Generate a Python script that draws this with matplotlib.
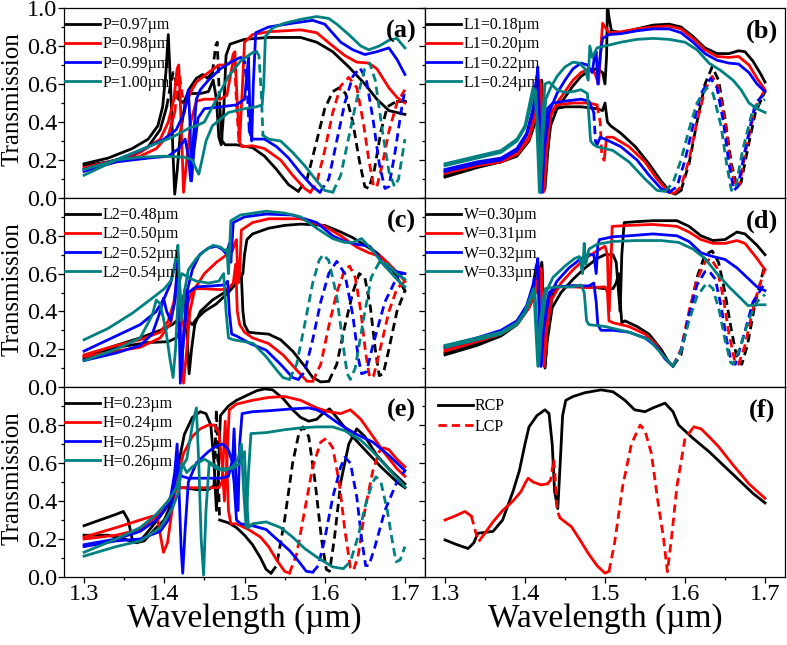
import matplotlib
matplotlib.use("Agg")
import matplotlib.pyplot as plt
from matplotlib.lines import Line2D
from matplotlib.ticker import MultipleLocator
import numpy as np

plt.rcParams["font.family"] = ["Liberation Serif", "DejaVu Serif"]
plt.rcParams["mathtext.fontset"] = "stix"

COLORS = ["#000000", "#ff0000", "#0000ff", "#008080"]
DASH = (0, (3.0, 1.8))

# ---------------- panel (a): period P ----------------
a_labels = ["P=0.97µm", "P=0.98µm", "P=0.99µm", "P=1.00µm"]
a_rcp_k = [(1.300, 0.18), (1.330, 0.21), (1.360, 0.26), (1.380, 0.31), (1.392, 0.38), (1.398, 0.48), (1.402, 0.66),
           (1.405, 0.86), (1.408, 0.58), (1.411, 0.22), (1.413, 0.02), (1.416, 0.14), (1.420, 0.34), (1.426, 0.50),
           (1.432, 0.55), (1.445, 0.55), (1.455, 0.56), (1.461, 0.62), (1.465, 0.52), (1.468, 0.32), (1.471, 0.28),
           (1.474, 0.45), (1.477, 0.75), (1.482, 0.81), (1.50, 0.835), (1.53, 0.845), (1.57, 0.845), (1.59, 0.82),
           (1.61, 0.77), (1.63, 0.69), (1.65, 0.60), (1.665, 0.52), (1.68, 0.46), (1.70, 0.44)]
a_lcp_k = [(1.300, 0.17), (1.330, 0.19), (1.360, 0.22), (1.380, 0.27), (1.395, 0.36), (1.403, 0.48), (1.408, 0.60),
           (1.411, 0.66), (1.414, 0.62), (1.418, 0.52), (1.424, 0.50), (1.432, 0.58), (1.440, 0.63), (1.448, 0.65),
           (1.454, 0.63), (1.460, 0.66), (1.464, 0.80), (1.466, 0.82), (1.469, 0.50), (1.472, 0.30), (1.476, 0.28),
           (1.49, 0.28), (1.51, 0.265), (1.525, 0.22), (1.54, 0.15), (1.555, 0.07), (1.567, 0.035), (1.578, 0.10),
           (1.59, 0.30), (1.60, 0.47), (1.61, 0.56), (1.618, 0.58), (1.626, 0.55), (1.635, 0.40), (1.643, 0.20),
           (1.650, 0.06), (1.655, 0.05), (1.662, 0.15), (1.670, 0.35), (1.678, 0.48), (1.69, 0.51), (1.70, 0.51)]
a_dash_k = [(1.405, 1.418), (1.460, 1.469), (1.567, 1.685)]
a_rcp_r = [(1.300, 0.16), (1.340, 0.20), (1.370, 0.24), (1.395, 0.31), (1.405, 0.40), (1.412, 0.52), (1.416, 0.68),
           (1.418, 0.70), (1.421, 0.40), (1.424, 0.03), (1.428, 0.20), (1.433, 0.40), (1.440, 0.51), (1.45, 0.52),
           (1.47, 0.52), (1.478, 0.54), (1.484, 0.68), (1.488, 0.77), (1.491, 0.50), (1.494, 0.30), (1.497, 0.55),
           (1.500, 0.82), (1.51, 0.86), (1.53, 0.875), (1.57, 0.885), (1.59, 0.87), (1.61, 0.80), (1.625, 0.75),
           (1.64, 0.715), (1.655, 0.71), (1.665, 0.68), (1.68, 0.58), (1.69, 0.53), (1.70, 0.50)]
a_lcp_r = [(1.300, 0.15), (1.340, 0.19), (1.370, 0.22), (1.390, 0.26), (1.405, 0.33), (1.413, 0.45), (1.417, 0.60),
           (1.419, 0.65), (1.422, 0.55), (1.426, 0.48), (1.432, 0.55), (1.440, 0.61), (1.455, 0.66), (1.468, 0.70),
           (1.478, 0.70), (1.484, 0.72), (1.487, 0.78), (1.490, 0.50), (1.493, 0.30), (1.497, 0.27), (1.51, 0.275),
           (1.525, 0.26), (1.545, 0.20), (1.56, 0.12), (1.575, 0.05), (1.582, 0.03), (1.59, 0.08), (1.60, 0.25),
           (1.61, 0.45), (1.62, 0.59), (1.63, 0.635), (1.64, 0.58), (1.648, 0.40), (1.655, 0.20), (1.661, 0.06),
           (1.665, 0.06), (1.672, 0.18), (1.68, 0.35), (1.69, 0.50), (1.70, 0.57)]
a_dash_r = [(1.415, 1.425), (1.484, 1.494), (1.582, 1.70)]
a_rcp_b = [(1.300, 0.15), (1.340, 0.20), (1.370, 0.25), (1.400, 0.31), (1.415, 0.36), (1.425, 0.45), (1.430, 0.57),
           (1.432, 0.40), (1.434, 0.09), (1.437, 0.25), (1.442, 0.42), (1.450, 0.47), (1.47, 0.48), (1.49, 0.49),
           (1.50, 0.52), (1.503, 0.65), (1.505, 0.74), (1.507, 0.40), (1.509, 0.30), (1.511, 0.60), (1.514, 0.87),
           (1.53, 0.90), (1.56, 0.92), (1.585, 0.935), (1.60, 0.915), (1.62, 0.82), (1.635, 0.78), (1.65, 0.755),
           (1.665, 0.77), (1.68, 0.79), (1.69, 0.73), (1.70, 0.65)]
a_lcp_b = [(1.300, 0.14), (1.340, 0.19), (1.380, 0.21), (1.405, 0.22), (1.418, 0.26), (1.426, 0.31), (1.430, 0.22),
           (1.433, 0.09), (1.436, 0.30), (1.440, 0.52), (1.445, 0.57), (1.455, 0.62), (1.47, 0.68), (1.485, 0.72),
           (1.495, 0.74), (1.500, 0.72), (1.503, 0.60), (1.506, 0.35), (1.510, 0.31), (1.525, 0.31), (1.54, 0.27),
           (1.555, 0.21), (1.57, 0.13), (1.585, 0.06), (1.594, 0.03), (1.605, 0.10), (1.615, 0.30), (1.625, 0.50),
           (1.635, 0.64), (1.644, 0.685), (1.652, 0.62), (1.66, 0.42), (1.668, 0.18), (1.675, 0.05), (1.680, 0.06),
           (1.688, 0.25), (1.695, 0.45), (1.70, 0.57)]
a_dash_b = [(1.497, 1.507), (1.594, 1.70)]
a_rcp_t = [(1.300, 0.15), (1.340, 0.20), (1.370, 0.215), (1.400, 0.22), (1.425, 0.215), (1.435, 0.20), (1.440, 0.15),
           (1.443, 0.125), (1.447, 0.20), (1.452, 0.30), (1.46, 0.38), (1.48, 0.45), (1.50, 0.47), (1.515, 0.48),
           (1.522, 0.49), (1.524, 0.60), (1.526, 0.85), (1.535, 0.895), (1.55, 0.92), (1.57, 0.94), (1.59, 0.955),
           (1.605, 0.945), (1.615, 0.915), (1.63, 0.86), (1.645, 0.80), (1.655, 0.78), (1.668, 0.80), (1.68, 0.83),
           (1.69, 0.84), (1.70, 0.79)]
a_lcp_t = [(1.300, 0.12), (1.340, 0.20), (1.380, 0.27), (1.410, 0.32), (1.432, 0.37), (1.440, 0.38), (1.450, 0.40),
           (1.46, 0.48), (1.47, 0.56), (1.48, 0.64), (1.495, 0.72), (1.51, 0.765), (1.515, 0.77), (1.518, 0.75),
           (1.521, 0.55), (1.523, 0.33), (1.53, 0.31), (1.545, 0.30), (1.56, 0.24), (1.575, 0.17), (1.59, 0.09),
           (1.60, 0.04), (1.61, 0.03), (1.62, 0.12), (1.63, 0.32), (1.64, 0.52), (1.65, 0.68), (1.656, 0.71),
           (1.663, 0.62), (1.672, 0.35), (1.68, 0.14), (1.687, 0.06), (1.692, 0.10), (1.70, 0.31)]
a_dash_t = [(1.515, 1.523), (1.61, 1.70)]

# ---------------- panel (b): L1 ----------------
b_labels = ["L1=0.18µm", "L1=0.20µm", "L1=0.22µm", "L1=0.24µm"]
b_rcp_k = [(1.300, 0.11), (1.340, 0.16), (1.370, 0.19), (1.390, 0.22), (1.405, 0.30), (1.413, 0.40), (1.418, 0.52),
           (1.420, 0.60), (1.422, 0.35), (1.424, 0.04), (1.427, 0.20), (1.432, 0.38), (1.44, 0.47), (1.45, 0.53),
           (1.46, 0.59), (1.47, 0.64), (1.48, 0.67), (1.49, 0.68), (1.497, 0.66), (1.500, 0.60), (1.502, 0.75),
           (1.503, 1.02), (1.505, 0.95), (1.508, 0.88), (1.52, 0.87), (1.54, 0.89), (1.56, 0.91), (1.58, 0.915),
           (1.595, 0.90), (1.61, 0.85), (1.625, 0.79), (1.64, 0.76), (1.655, 0.76), (1.667, 0.775), (1.675, 0.77),
           (1.685, 0.72), (1.695, 0.65), (1.70, 0.61)]
b_lcp_k = [(1.300, 0.12), (1.340, 0.17), (1.370, 0.19), (1.390, 0.23), (1.405, 0.31), (1.413, 0.42), (1.418, 0.55),
           (1.421, 0.62), (1.423, 0.40), (1.425, 0.05), (1.428, 0.22), (1.432, 0.44), (1.438, 0.47), (1.45, 0.48),
           (1.47, 0.48), (1.49, 0.47), (1.497, 0.46), (1.500, 0.50), (1.503, 0.40), (1.507, 0.38), (1.52, 0.34),
           (1.538, 0.27), (1.555, 0.18), (1.57, 0.09), (1.582, 0.03), (1.588, 0.02), (1.595, 0.04), (1.605, 0.18),
           (1.615, 0.40), (1.625, 0.60), (1.634, 0.69), (1.642, 0.62), (1.65, 0.42), (1.658, 0.18), (1.665, 0.06),
           (1.670, 0.08), (1.678, 0.25), (1.688, 0.45), (1.70, 0.56)]
b_dash_k = [(1.592, 1.70)]
b_rcp_r = [(1.300, 0.13), (1.340, 0.17), (1.370, 0.19), (1.390, 0.23), (1.405, 0.31), (1.412, 0.42), (1.416, 0.55),
           (1.419, 0.62), (1.421, 0.35), (1.423, 0.03), (1.426, 0.22), (1.431, 0.42), (1.44, 0.50), (1.45, 0.56),
           (1.46, 0.62), (1.47, 0.66), (1.48, 0.68), (1.487, 0.66), (1.492, 0.60), (1.495, 0.80), (1.497, 0.92),
           (1.500, 0.90), (1.505, 0.87), (1.52, 0.875), (1.54, 0.89), (1.56, 0.90), (1.58, 0.905), (1.595, 0.89),
           (1.61, 0.84), (1.625, 0.78), (1.64, 0.745), (1.655, 0.74), (1.667, 0.745), (1.68, 0.70), (1.69, 0.63),
           (1.70, 0.57)]
b_lcp_r = [(1.300, 0.14), (1.340, 0.18), (1.370, 0.20), (1.390, 0.24), (1.405, 0.32), (1.412, 0.44), (1.417, 0.58),
           (1.420, 0.60), (1.422, 0.30), (1.424, 0.04), (1.427, 0.25), (1.432, 0.45), (1.44, 0.49), (1.46, 0.50),
           (1.48, 0.50), (1.49, 0.49), (1.494, 0.40), (1.496, 0.22), (1.499, 0.20), (1.502, 0.32), (1.51, 0.32),
           (1.53, 0.27), (1.55, 0.19), (1.565, 0.10), (1.58, 0.03), (1.587, 0.025), (1.595, 0.06), (1.605, 0.20),
           (1.615, 0.40), (1.625, 0.57), (1.634, 0.64), (1.642, 0.58), (1.65, 0.40), (1.657, 0.18), (1.663, 0.05),
           (1.668, 0.07), (1.676, 0.25), (1.688, 0.48), (1.70, 0.57)]
b_dash_r = [(1.492, 1.500), (1.587, 1.70)]
b_rcp_b = [(1.300, 0.14), (1.340, 0.18), (1.370, 0.20), (1.390, 0.25), (1.402, 0.33), (1.410, 0.45), (1.414, 0.60),
           (1.416, 0.69), (1.418, 0.40), (1.421, 0.03), (1.424, 0.25), (1.43, 0.45), (1.44, 0.55), (1.45, 0.62),
           (1.46, 0.68), (1.47, 0.71), (1.478, 0.70), (1.484, 0.66), (1.487, 0.75), (1.489, 0.77), (1.491, 0.60),
           (1.494, 0.75), (1.497, 0.84), (1.505, 0.86), (1.52, 0.865), (1.54, 0.88), (1.56, 0.89), (1.58, 0.89),
           (1.595, 0.87), (1.61, 0.82), (1.625, 0.76), (1.64, 0.725), (1.655, 0.71), (1.667, 0.705), (1.68, 0.66),
           (1.69, 0.60), (1.70, 0.56)]
b_lcp_b = [(1.300, 0.15), (1.340, 0.19), (1.370, 0.21), (1.390, 0.26), (1.402, 0.34), (1.410, 0.47), (1.414, 0.62),
           (1.416, 0.66), (1.418, 0.38), (1.420, 0.03), (1.423, 0.28), (1.428, 0.47), (1.435, 0.50), (1.45, 0.51),
           (1.47, 0.52), (1.48, 0.51), (1.486, 0.45), (1.488, 0.30), (1.490, 0.28), (1.494, 0.32), (1.50, 0.31),
           (1.52, 0.27), (1.54, 0.20), (1.555, 0.12), (1.57, 0.05), (1.58, 0.03), (1.59, 0.06), (1.60, 0.20),
           (1.61, 0.38), (1.62, 0.55), (1.632, 0.63), (1.64, 0.58), (1.648, 0.40), (1.655, 0.18), (1.661, 0.04),
           (1.666, 0.06), (1.675, 0.25), (1.688, 0.50), (1.70, 0.55)]
b_dash_b = [(1.484, 1.490), (1.58, 1.70)]
b_rcp_t = [(1.300, 0.17), (1.340, 0.21), (1.370, 0.24), (1.390, 0.30), (1.400, 0.37), (1.407, 0.48), (1.411, 0.56),
           (1.413, 0.57), (1.416, 0.35), (1.419, 0.03), (1.422, 0.30), (1.426, 0.52), (1.432, 0.58), (1.44, 0.64),
           (1.45, 0.69), (1.46, 0.715), (1.468, 0.71), (1.475, 0.68), (1.479, 0.62), (1.481, 0.80), (1.484, 0.74),
           (1.49, 0.79), (1.50, 0.80), (1.52, 0.82), (1.54, 0.835), (1.56, 0.84), (1.58, 0.835), (1.60, 0.82),
           (1.615, 0.78), (1.63, 0.71), (1.645, 0.67), (1.66, 0.62), (1.67, 0.57), (1.68, 0.50), (1.69, 0.47),
           (1.70, 0.45)]
b_lcp_t = [(1.300, 0.18), (1.340, 0.22), (1.370, 0.25), (1.390, 0.31), (1.400, 0.38), (1.406, 0.50), (1.410, 0.58),
           (1.413, 0.55), (1.416, 0.25), (1.418, 0.03), (1.421, 0.35), (1.425, 0.60), (1.43, 0.61), (1.44, 0.57),
           (1.45, 0.555), (1.46, 0.56), (1.47, 0.57), (1.478, 0.55), (1.480, 0.42), (1.482, 0.30), (1.486, 0.28),
           (1.49, 0.27), (1.51, 0.25), (1.53, 0.19), (1.55, 0.10), (1.565, 0.04), (1.575, 0.035), (1.585, 0.08),
           (1.595, 0.20), (1.605, 0.36), (1.615, 0.50), (1.627, 0.58), (1.635, 0.55), (1.645, 0.38), (1.652, 0.18),
           (1.658, 0.04), (1.663, 0.05), (1.672, 0.25), (1.685, 0.47), (1.70, 0.52)]
b_dash_t = [(1.575, 1.70)]

# ---------------- panel (c): L2 ----------------
c_labels = ["L2=0.48µm", "L2=0.50µm", "L2=0.52µm", "L2=0.54µm"]
c_rcp_k = [(1.300, 0.15), (1.340, 0.21), (1.380, 0.235), (1.405, 0.24), (1.415, 0.26), (1.420, 0.30), (1.424, 0.48),
           (1.426, 0.50), (1.428, 0.30), (1.431, 0.07), (1.434, 0.20), (1.438, 0.33), (1.445, 0.40), (1.46, 0.46),
           (1.475, 0.50), (1.488, 0.54), (1.495, 0.58), (1.498, 0.60), (1.500, 0.70), (1.503, 0.78), (1.51, 0.81),
           (1.53, 0.84), (1.55, 0.855), (1.57, 0.862), (1.60, 0.855), (1.62, 0.82), (1.635, 0.79), (1.65, 0.75),
           (1.665, 0.71), (1.68, 0.65), (1.69, 0.58), (1.70, 0.51)]
c_lcp_k = [(1.300, 0.16), (1.340, 0.22), (1.370, 0.26), (1.395, 0.30), (1.410, 0.33), (1.418, 0.36), (1.423, 0.42),
           (1.426, 0.52), (1.428, 0.45), (1.430, 0.35), (1.435, 0.33), (1.44, 0.36), (1.45, 0.40), (1.465, 0.44),
           (1.48, 0.50), (1.49, 0.55), (1.496, 0.60), (1.498, 0.40), (1.500, 0.33), (1.505, 0.29), (1.515, 0.285),
           (1.53, 0.28), (1.545, 0.25), (1.56, 0.19), (1.575, 0.11), (1.585, 0.05), (1.595, 0.027), (1.605, 0.03),
           (1.615, 0.12), (1.625, 0.32), (1.635, 0.50), (1.643, 0.60), (1.65, 0.58), (1.657, 0.42), (1.663, 0.20),
           (1.668, 0.06), (1.673, 0.07), (1.68, 0.20), (1.69, 0.40), (1.70, 0.51)]
c_dash_k = [(1.605, 1.70)]
c_rcp_r = [(1.300, 0.17), (1.340, 0.22), (1.370, 0.25), (1.395, 0.29), (1.405, 0.35), (1.412, 0.45), (1.416, 0.58),
           (1.418, 0.60), (1.421, 0.30), (1.424, 0.02), (1.427, 0.15), (1.432, 0.40), (1.438, 0.52), (1.45, 0.60),
           (1.465, 0.66), (1.478, 0.70), (1.485, 0.72), (1.488, 0.76), (1.490, 0.78), (1.492, 0.55), (1.494, 0.60),
           (1.496, 0.83), (1.51, 0.87), (1.53, 0.89), (1.57, 0.89), (1.60, 0.85), (1.62, 0.80), (1.64, 0.74),
           (1.655, 0.71), (1.67, 0.69), (1.685, 0.63), (1.70, 0.56)]
c_lcp_r = [(1.300, 0.16), (1.340, 0.19), (1.370, 0.21), (1.395, 0.26), (1.408, 0.34), (1.414, 0.48), (1.417, 0.66),
           (1.419, 0.55), (1.422, 0.35), (1.426, 0.30), (1.430, 0.45), (1.436, 0.52), (1.45, 0.52), (1.47, 0.515),
           (1.48, 0.52), (1.486, 0.55), (1.489, 0.65), (1.491, 0.40), (1.494, 0.33), (1.50, 0.29), (1.51, 0.26),
           (1.53, 0.23), (1.548, 0.17), (1.565, 0.09), (1.578, 0.03), (1.585, 0.03), (1.595, 0.12), (1.605, 0.32),
           (1.615, 0.50), (1.625, 0.62), (1.631, 0.64), (1.638, 0.58), (1.645, 0.40), (1.651, 0.18), (1.656, 0.05),
           (1.661, 0.06), (1.668, 0.18), (1.68, 0.40), (1.69, 0.52), (1.70, 0.56)]
c_dash_r = [(1.414, 1.420), (1.585, 1.70)]
c_rcp_b = [(1.300, 0.19), (1.340, 0.27), (1.370, 0.33), (1.390, 0.40), (1.400, 0.47), (1.408, 0.55), (1.413, 0.64),
           (1.416, 0.70), (1.418, 0.50), (1.420, 0.02), (1.423, 0.20), (1.428, 0.50), (1.435, 0.62), (1.444, 0.70),
           (1.455, 0.735), (1.465, 0.745), (1.472, 0.73), (1.478, 0.70), (1.481, 0.76), (1.483, 0.66), (1.486, 0.87),
           (1.50, 0.90), (1.527, 0.915), (1.56, 0.91), (1.59, 0.87), (1.61, 0.80), (1.625, 0.77), (1.64, 0.755),
           (1.656, 0.745), (1.665, 0.70), (1.675, 0.64), (1.69, 0.61), (1.70, 0.60)]
c_lcp_b = [(1.300, 0.14), (1.340, 0.18), (1.370, 0.22), (1.385, 0.28), (1.395, 0.40), (1.399, 0.47), (1.403, 0.40),
           (1.408, 0.35), (1.413, 0.45), (1.416, 0.62), (1.418, 0.40), (1.421, 0.10), (1.425, 0.30), (1.430, 0.50),
           (1.44, 0.53), (1.46, 0.535), (1.475, 0.54), (1.479, 0.56), (1.481, 0.40), (1.484, 0.28), (1.49, 0.27),
           (1.507, 0.23), (1.527, 0.195), (1.545, 0.12), (1.56, 0.05), (1.567, 0.04), (1.575, 0.08), (1.585, 0.25),
           (1.595, 0.45), (1.605, 0.60), (1.615, 0.665), (1.625, 0.60), (1.635, 0.38), (1.642, 0.15), (1.646, 0.07),
           (1.652, 0.08), (1.66, 0.22), (1.675, 0.45), (1.69, 0.58), (1.70, 0.61)]
c_dash_b = [(1.567, 1.70)]
c_rcp_t = [(1.300, 0.25), (1.330, 0.31), (1.360, 0.39), (1.385, 0.47), (1.400, 0.52), (1.408, 0.56), (1.412, 0.62),
           (1.415, 0.70), (1.417, 0.75), (1.419, 0.55), (1.421, 0.35), (1.425, 0.50), (1.430, 0.62), (1.44, 0.68),
           (1.45, 0.72), (1.461, 0.75), (1.47, 0.74), (1.476, 0.72), (1.478, 0.73), (1.480, 0.60), (1.483, 0.88),
           (1.495, 0.91), (1.527, 0.93), (1.55, 0.92), (1.57, 0.90), (1.59, 0.84), (1.61, 0.785), (1.625, 0.765),
           (1.635, 0.765), (1.646, 0.785), (1.66, 0.72), (1.675, 0.64), (1.69, 0.57), (1.70, 0.53)]
c_lcp_t = [(1.300, 0.14), (1.340, 0.20), (1.370, 0.26), (1.385, 0.38), (1.390, 0.46), (1.395, 0.44), (1.402, 0.30),
           (1.407, 0.15), (1.411, 0.05), (1.414, 0.20), (1.418, 0.55), (1.422, 0.60), (1.43, 0.58), (1.44, 0.56),
           (1.455, 0.55), (1.468, 0.56), (1.474, 0.60), (1.477, 0.40), (1.480, 0.26), (1.486, 0.25), (1.50, 0.24),
           (1.511, 0.23), (1.527, 0.16), (1.54, 0.09), (1.548, 0.05), (1.556, 0.04), (1.565, 0.12), (1.575, 0.33),
           (1.585, 0.55), (1.593, 0.67), (1.598, 0.70), (1.605, 0.67), (1.615, 0.48), (1.623, 0.22), (1.628, 0.07),
           (1.632, 0.04), (1.638, 0.10), (1.648, 0.35), (1.658, 0.58), (1.668, 0.66), (1.678, 0.65), (1.69, 0.60),
           (1.70, 0.57)]
c_dash_t = [(1.556, 1.668)]

# ---------------- panel (d): W ----------------
d_labels = ["W=0.30µm", "W=0.31µm", "W=0.32µm", "W=0.33µm"]
d_rcp_k = [(1.300, 0.17), (1.340, 0.22), (1.370, 0.27), (1.390, 0.33), (1.405, 0.42), (1.413, 0.50), (1.418, 0.58),
           (1.421, 0.66), (1.423, 0.40), (1.425, 0.11), (1.428, 0.25), (1.434, 0.42), (1.445, 0.50), (1.46, 0.57),
           (1.475, 0.63), (1.49, 0.68), (1.50, 0.70), (1.51, 0.70), (1.514, 0.66), (1.517, 0.50), (1.519, 0.40),
           (1.521, 0.70), (1.524, 0.87), (1.54, 0.875), (1.56, 0.88), (1.59, 0.88), (1.605, 0.85), (1.62, 0.80),
           (1.635, 0.775), (1.65, 0.78), (1.665, 0.82), (1.675, 0.81), (1.69, 0.75), (1.70, 0.70)]
d_lcp_k = [(1.300, 0.18), (1.340, 0.23), (1.370, 0.28), (1.390, 0.34), (1.405, 0.43), (1.413, 0.52), (1.418, 0.62),
           (1.421, 0.65), (1.423, 0.35), (1.425, 0.10), (1.428, 0.30), (1.434, 0.48), (1.44, 0.53), (1.46, 0.535),
           (1.48, 0.53), (1.50, 0.52), (1.51, 0.52), (1.514, 0.55), (1.517, 0.60), (1.519, 0.45), (1.521, 0.34),
           (1.525, 0.35), (1.54, 0.32), (1.555, 0.28), (1.57, 0.20), (1.58, 0.13), (1.585, 0.11), (1.595, 0.17),
           (1.605, 0.38), (1.615, 0.58), (1.625, 0.70), (1.634, 0.72), (1.642, 0.66), (1.65, 0.50), (1.658, 0.30),
           (1.665, 0.15), (1.671, 0.12), (1.678, 0.22), (1.688, 0.45), (1.70, 0.65)]
d_dash_k = [(1.585, 1.70)]
d_rcp_r = [(1.300, 0.19), (1.340, 0.24), (1.370, 0.28), (1.390, 0.33), (1.405, 0.42), (1.413, 0.50), (1.418, 0.57),
           (1.420, 0.62), (1.422, 0.35), (1.424, 0.11), (1.427, 0.30), (1.433, 0.46), (1.445, 0.55), (1.46, 0.62),
           (1.475, 0.68), (1.49, 0.72), (1.50, 0.745), (1.503, 0.70), (1.505, 0.40), (1.507, 0.60), (1.509, 0.85),
           (1.53, 0.855), (1.56, 0.86), (1.59, 0.85), (1.605, 0.82), (1.62, 0.78), (1.635, 0.76), (1.65, 0.76),
           (1.665, 0.775), (1.675, 0.76), (1.69, 0.68), (1.70, 0.62)]
d_lcp_r = [(1.300, 0.20), (1.340, 0.25), (1.370, 0.29), (1.390, 0.35), (1.405, 0.43), (1.413, 0.52), (1.418, 0.60),
           (1.420, 0.63), (1.422, 0.35), (1.424, 0.11), (1.427, 0.35), (1.432, 0.50), (1.44, 0.53), (1.46, 0.53),
           (1.48, 0.525), (1.50, 0.53), (1.503, 0.50), (1.505, 0.35), (1.51, 0.34), (1.53, 0.32), (1.55, 0.28),
           (1.565, 0.22), (1.575, 0.15), (1.585, 0.11), (1.595, 0.20), (1.605, 0.40), (1.615, 0.57), (1.625, 0.66),
           (1.632, 0.68), (1.64, 0.63), (1.648, 0.47), (1.655, 0.28), (1.662, 0.14), (1.667, 0.12), (1.675, 0.22),
           (1.687, 0.45), (1.70, 0.63)]
d_dash_r = [(1.585, 1.70)]
d_rcp_b = [(1.300, 0.21), (1.340, 0.25), (1.370, 0.29), (1.390, 0.34), (1.402, 0.42), (1.410, 0.52), (1.414, 0.62),
           (1.416, 0.68), (1.418, 0.40), (1.420, 0.11), (1.423, 0.30), (1.43, 0.48), (1.44, 0.56), (1.455, 0.63),
           (1.47, 0.68), (1.48, 0.70), (1.486, 0.70), (1.489, 0.60), (1.491, 0.75), (1.493, 0.78), (1.51, 0.795),
           (1.53, 0.80), (1.56, 0.81), (1.59, 0.80), (1.605, 0.77), (1.62, 0.71), (1.635, 0.69), (1.65, 0.675),
           (1.665, 0.63), (1.675, 0.59), (1.69, 0.53), (1.70, 0.51)]
d_lcp_b = [(1.300, 0.215), (1.340, 0.26), (1.370, 0.30), (1.390, 0.35), (1.402, 0.43), (1.410, 0.54), (1.414, 0.64),
           (1.416, 0.66), (1.418, 0.35), (1.420, 0.11), (1.423, 0.35), (1.43, 0.50), (1.44, 0.53), (1.46, 0.535),
           (1.48, 0.535), (1.486, 0.55), (1.489, 0.45), (1.491, 0.33), (1.495, 0.30), (1.51, 0.30), (1.53, 0.29),
           (1.55, 0.26), (1.565, 0.21), (1.575, 0.15), (1.585, 0.11), (1.595, 0.19), (1.605, 0.38), (1.615, 0.54),
           (1.625, 0.61), (1.63, 0.615), (1.638, 0.57), (1.645, 0.43), (1.652, 0.25), (1.658, 0.13), (1.663, 0.12),
           (1.672, 0.25), (1.685, 0.45), (1.70, 0.55)]
d_dash_b = [(1.585, 1.70)]
d_rcp_t = [(1.300, 0.21), (1.340, 0.25), (1.370, 0.28), (1.390, 0.33), (1.400, 0.39), (1.408, 0.47), (1.412, 0.52),
           (1.414, 0.40), (1.417, 0.11), (1.420, 0.30), (1.426, 0.50), (1.435, 0.58), (1.45, 0.64), (1.462, 0.68),
           (1.468, 0.69), (1.472, 0.60), (1.474, 0.76), (1.476, 0.65), (1.48, 0.73), (1.49, 0.755), (1.51, 0.77),
           (1.54, 0.775), (1.57, 0.775), (1.592, 0.765), (1.61, 0.73), (1.625, 0.68), (1.64, 0.60), (1.655, 0.53),
           (1.667, 0.48), (1.679, 0.43), (1.69, 0.435), (1.70, 0.435)]
d_lcp_t = [(1.300, 0.22), (1.340, 0.26), (1.370, 0.29), (1.390, 0.34), (1.400, 0.40), (1.408, 0.49), (1.411, 0.52),
           (1.413, 0.35), (1.416, 0.11), (1.419, 0.35), (1.425, 0.52), (1.44, 0.53), (1.46, 0.53), (1.47, 0.54),
           (1.474, 0.50), (1.477, 0.35), (1.480, 0.33), (1.50, 0.32), (1.53, 0.29), (1.555, 0.25), (1.57, 0.18),
           (1.58, 0.13), (1.585, 0.11), (1.595, 0.19), (1.605, 0.35), (1.615, 0.48), (1.627, 0.55), (1.635, 0.52),
           (1.643, 0.40), (1.65, 0.25), (1.657, 0.13), (1.66, 0.12), (1.668, 0.20), (1.68, 0.36), (1.69, 0.45),
           (1.70, 0.49)]
d_dash_t = [(1.585, 1.70)]

# ---------------- panel (e): H ----------------
e_labels = ["H=0.23µm", "H=0.24µm", "H=0.25µm", "H=0.26µm"]
e_rcp_k = [(1.300, 0.27), (1.320, 0.30), (1.340, 0.33), (1.349, 0.345), (1.355, 0.30), (1.360, 0.20), (1.370, 0.19),
           (1.380, 0.24), (1.395, 0.32), (1.405, 0.38), (1.412, 0.45), (1.418, 0.60), (1.425, 0.75), (1.435, 0.84),
           (1.445, 0.87), (1.452, 0.86), (1.458, 0.80), (1.462, 0.60), (1.465, 0.35), (1.467, 0.50), (1.470, 0.85),
           (1.48, 0.90), (1.49, 0.93), (1.50, 0.95), (1.515, 0.98), (1.525, 0.99), (1.535, 0.985), (1.548, 0.94),
           (1.56, 0.88), (1.57, 0.84), (1.58, 0.82), (1.59, 0.83), (1.60, 0.87), (1.606, 0.885), (1.615, 0.84),
           (1.63, 0.76), (1.65, 0.67), (1.67, 0.58), (1.69, 0.50), (1.70, 0.47)]
e_lcp_k = [(1.300, 0.22), (1.330, 0.22), (1.350, 0.20), (1.365, 0.18), (1.375, 0.19), (1.390, 0.26), (1.400, 0.30),
           (1.410, 0.40), (1.415, 0.47), (1.425, 0.47), (1.44, 0.46), (1.455, 0.46), (1.462, 0.48), (1.465, 0.88),
           (1.467, 0.60), (1.469, 0.30), (1.48, 0.285), (1.49, 0.26), (1.50, 0.22), (1.51, 0.17), (1.52, 0.10),
           (1.527, 0.04), (1.533, 0.02), (1.54, 0.06), (1.55, 0.30), (1.56, 0.60), (1.568, 0.76), (1.573, 0.79),
           (1.58, 0.74), (1.588, 0.50), (1.596, 0.20), (1.602, 0.04), (1.606, 0.03), (1.612, 0.20), (1.62, 0.50),
           (1.63, 0.70), (1.64, 0.78), (1.65, 0.74), (1.665, 0.64), (1.68, 0.57), (1.70, 0.49)]
e_dash_k = [(1.462, 1.468), (1.533, 1.62)]
e_rcp_r = [(1.300, 0.21), (1.340, 0.26), (1.370, 0.30), (1.385, 0.32), (1.392, 0.30), (1.396, 0.20), (1.399, 0.13),
           (1.404, 0.18), (1.411, 0.39), (1.418, 0.55), (1.424, 0.65), (1.435, 0.74), (1.445, 0.78), (1.455, 0.80),
           (1.462, 0.80), (1.468, 0.76), (1.472, 0.60), (1.475, 0.40), (1.478, 0.60), (1.481, 0.88), (1.49, 0.91),
           (1.51, 0.93), (1.53, 0.945), (1.55, 0.95), (1.57, 0.93), (1.59, 0.89), (1.605, 0.87), (1.62, 0.86),
           (1.632, 0.88), (1.645, 0.83), (1.66, 0.74), (1.675, 0.65), (1.69, 0.57), (1.70, 0.53)]
e_lcp_r = [(1.300, 0.20), (1.340, 0.22), (1.370, 0.25), (1.390, 0.32), (1.405, 0.40), (1.415, 0.47), (1.425, 0.47),
           (1.45, 0.47), (1.468, 0.47), (1.472, 0.50), (1.476, 0.82), (1.478, 0.60), (1.480, 0.35), (1.483, 0.28),
           (1.49, 0.28), (1.505, 0.25), (1.52, 0.21), (1.53, 0.16), (1.54, 0.09), (1.55, 0.03), (1.556, 0.02),
           (1.565, 0.12), (1.575, 0.35), (1.585, 0.58), (1.595, 0.71), (1.602, 0.73), (1.61, 0.68), (1.618, 0.50),
           (1.625, 0.25), (1.632, 0.05), (1.636, 0.035), (1.642, 0.12), (1.65, 0.35), (1.66, 0.56), (1.668, 0.66),
           (1.673, 0.68), (1.68, 0.67), (1.69, 0.62), (1.70, 0.58)]
e_dash_r = [(1.556, 1.668)]
e_rcp_b = [(1.300, 0.17), (1.340, 0.20), (1.370, 0.24), (1.390, 0.30), (1.400, 0.35), (1.408, 0.42), (1.413, 0.55),
           (1.416, 0.70), (1.418, 0.50), (1.421, 0.15), (1.423, 0.02), (1.426, 0.25), (1.430, 0.50), (1.44, 0.60),
           (1.455, 0.66), (1.465, 0.69), (1.473, 0.70), (1.480, 0.67), (1.485, 0.60), (1.487, 0.78), (1.489, 0.55),
           (1.492, 0.35), (1.494, 0.70), (1.497, 0.86), (1.51, 0.87), (1.53, 0.875), (1.56, 0.885), (1.58, 0.89),
           (1.59, 0.88), (1.60, 0.86), (1.62, 0.80), (1.64, 0.75), (1.66, 0.71), (1.68, 0.64), (1.70, 0.56)]
e_lcp_b = [(1.300, 0.16), (1.340, 0.19), (1.370, 0.20), (1.395, 0.24), (1.405, 0.30), (1.412, 0.45), (1.416, 0.60),
           (1.419, 0.55), (1.422, 0.53), (1.43, 0.52), (1.45, 0.52), (1.47, 0.52), (1.48, 0.53), (1.484, 0.60),
           (1.487, 0.50), (1.490, 0.30), (1.495, 0.28), (1.51, 0.27), (1.527, 0.25), (1.54, 0.20), (1.556, 0.14),
           (1.568, 0.08), (1.577, 0.03), (1.585, 0.025), (1.592, 0.06), (1.60, 0.20), (1.61, 0.42), (1.62, 0.58),
           (1.625, 0.63), (1.632, 0.60), (1.64, 0.42), (1.646, 0.20), (1.651, 0.06), (1.655, 0.06), (1.662, 0.15),
           (1.675, 0.35), (1.69, 0.50), (1.70, 0.56)]
e_dash_b = [(1.585, 1.70)]
e_rcp_t = [(1.300, 0.13), (1.340, 0.20), (1.370, 0.26), (1.390, 0.33), (1.405, 0.40), (1.415, 0.47), (1.422, 0.58),
           (1.428, 0.62), (1.435, 0.80), (1.440, 0.89), (1.443, 0.60), (1.446, 0.20), (1.449, 0.01), (1.452, 0.35),
           (1.456, 0.60), (1.465, 0.57), (1.475, 0.56), (1.485, 0.58), (1.492, 0.62), (1.496, 0.70), (1.499, 0.45),
           (1.502, 0.26), (1.505, 0.55), (1.508, 0.755), (1.527, 0.76), (1.55, 0.775), (1.57, 0.785), (1.59, 0.79),
           (1.61, 0.79), (1.625, 0.77), (1.645, 0.72), (1.66, 0.66), (1.675, 0.59), (1.69, 0.52), (1.70, 0.475)]
e_lcp_t = [(1.300, 0.11), (1.340, 0.16), (1.370, 0.19), (1.395, 0.26), (1.410, 0.36), (1.418, 0.45), (1.422, 0.60),
           (1.428, 0.55), (1.435, 0.58), (1.442, 0.60), (1.45, 0.62), (1.458, 0.60), (1.47, 0.57), (1.485, 0.57),
           (1.495, 0.60), (1.500, 0.66), (1.502, 0.45), (1.505, 0.26), (1.51, 0.28), (1.527, 0.29), (1.545, 0.26),
           (1.56, 0.21), (1.575, 0.15), (1.59, 0.105), (1.61, 0.053), (1.623, 0.044), (1.632, 0.08), (1.642, 0.22),
           (1.652, 0.40), (1.66, 0.50), (1.664, 0.527), (1.67, 0.50), (1.678, 0.35), (1.685, 0.17), (1.689, 0.08),
           (1.694, 0.09), (1.70, 0.16)]
e_dash_t = [(1.623, 1.70)]

# ---------------- panel (f): RCP / LCP ----------------
f_rcp = [(1.300, 0.195), (1.315, 0.17), (1.329, 0.15), (1.336, 0.18), (1.341, 0.23), (1.350, 0.235), (1.360, 0.24),
         (1.372, 0.30), (1.385, 0.45), (1.393, 0.56), (1.400, 0.70), (1.405, 0.79), (1.415, 0.85), (1.425, 0.88),
         (1.430, 0.86), (1.434, 0.70), (1.437, 0.45), (1.441, 0.36), (1.444, 0.60), (1.447, 0.85), (1.451, 0.93),
         (1.46, 0.95), (1.475, 0.97), (1.495, 0.985), (1.51, 0.975), (1.525, 0.93), (1.537, 0.88), (1.55, 0.87),
         (1.56, 0.89), (1.575, 0.915), (1.585, 0.87), (1.592, 0.80), (1.61, 0.73), (1.63, 0.66), (1.65, 0.58),
         (1.67, 0.50), (1.685, 0.44), (1.70, 0.39)]
f_lcp = [(1.300, 0.30), (1.312, 0.32), (1.325, 0.345), (1.333, 0.32), (1.338, 0.24), (1.342, 0.186), (1.348, 0.22),
         (1.36, 0.29), (1.372, 0.35), (1.385, 0.40), (1.395, 0.45), (1.401, 0.50), (1.404, 0.52), (1.410, 0.50),
         (1.42, 0.485), (1.428, 0.49), (1.432, 0.51), (1.436, 0.62), (1.438, 0.50), (1.440, 0.35), (1.444, 0.31),
         (1.45, 0.29), (1.458, 0.265), (1.468, 0.20), (1.479, 0.125), (1.49, 0.06), (1.500, 0.02), (1.505, 0.03),
         (1.512, 0.18), (1.522, 0.475), (1.533, 0.70), (1.544, 0.80), (1.55, 0.77), (1.558, 0.65), (1.566, 0.40),
         (1.573, 0.21), (1.578, 0.028), (1.583, 0.20), (1.590, 0.48), (1.60, 0.73), (1.611, 0.79), (1.62, 0.78),
         (1.632, 0.73), (1.642, 0.686), (1.66, 0.59), (1.68, 0.49), (1.70, 0.414)]
f_dash = [(1.333, 1.348), (1.430, 1.445), (1.505, 1.607)]


def draw(ax, pts, color, dash=()):
    """Polyline with solid and dashed stretches (dash = list of x ranges)."""
    x = np.array([p[0] for p in pts])
    y = np.array([p[1] for p in pts])
    mid = 0.5 * (x[:-1] + x[1:])
    dashed = np.zeros(len(mid), dtype=bool)
    for lo, hi in dash:
        dashed |= (mid >= lo) & (mid <= hi)
    start = 0
    for i in range(1, len(mid) + 1):
        if i == len(mid) or dashed[i] != dashed[start]:
            ls = DASH if dashed[start] else "-"
            ax.plot(x[start:i + 1], y[start:i + 1], color=color, lw=2.0, ls=ls,
                    solid_joinstyle="round", dash_capstyle="butt")
            start = i


def style(ax, letter, left, bottom, top_label):
    ax.set_xlim(1.275, 1.725)
    ax.set_ylim(0, 1.0)
    ax.xaxis.set_major_locator(MultipleLocator(0.1))
    ax.xaxis.set_minor_locator(MultipleLocator(0.05))
    ax.set_yticks([0, 0.2, 0.4, 0.6, 0.8, 1.0] if top_label else [0, 0.2, 0.4, 0.6, 0.8])
    ax.yaxis.set_minor_locator(MultipleLocator(0.1))
    ax.tick_params(which="both", direction="out", top=False, right=False,
                   labelleft=left, labelbottom=bottom, labelsize=17.5, pad=1, width=0.9)
    ax.tick_params(which="major", length=4)
    ax.tick_params(which="minor", length=2.5)
    for s in ax.spines.values():
        s.set_linewidth(0.9)
    ax.text(0.935, 0.875, letter, transform=ax.transAxes, ha="center", va="center",
            fontsize=19, fontweight="bold")
    if left:
        ax.set_ylabel("Transmission", fontsize=18)
        ax.yaxis.set_label_coords(-0.112, 0.52)
    if bottom:
        ax.set_xlabel("Wavelength (µm)", fontsize=24)
        ax.xaxis.set_label_coords(0.5, -0.14)


fig = plt.figure(figsize=(7.87, 6.45), dpi=100)
L, M, R = 64 / 787, 425 / 787, 785 / 787
rows = [(1 - 198 / 645, 190 / 645), (1 - 387 / 645, 189 / 645), (1 - 577 / 645, 190 / 645)]

panels = [
    ("(a)", 0, 0, a_labels, [a_rcp_k, a_rcp_r, a_rcp_b, a_rcp_t], [a_lcp_k, a_lcp_r, a_lcp_b, a_lcp_t],
     [a_dash_k, a_dash_r, a_dash_b, a_dash_t]),
    ("(b)", 0, 1, b_labels, [b_rcp_k, b_rcp_r, b_rcp_b, b_rcp_t], [b_lcp_k, b_lcp_r, b_lcp_b, b_lcp_t],
     [b_dash_k, b_dash_r, b_dash_b, b_dash_t]),
    ("(c)", 1, 0, c_labels, [c_rcp_k, c_rcp_r, c_rcp_b, c_rcp_t], [c_lcp_k, c_lcp_r, c_lcp_b, c_lcp_t],
     [c_dash_k, c_dash_r, c_dash_b, c_dash_t]),
    ("(d)", 1, 1, d_labels, [d_rcp_k, d_rcp_r, d_rcp_b, d_rcp_t], [d_lcp_k, d_lcp_r, d_lcp_b, d_lcp_t],
     [d_dash_k, d_dash_r, d_dash_b, d_dash_t]),
    ("(e)", 2, 0, e_labels, [e_rcp_k, e_rcp_r, e_rcp_b, e_rcp_t], [e_lcp_k, e_lcp_r, e_lcp_b, e_lcp_t],
     [e_dash_k, e_dash_r, e_dash_b, e_dash_t]),
]

for letter, r, c, labels, rcps, lcps, dashes in panels:
    b, h = rows[r]
    x0, w = (L, M - L) if c == 0 else (M, R - M)
    ax = fig.add_axes([x0, b, w, h])
    for col, rc, lc, ds in zip(COLORS, rcps, lcps, dashes):
        draw(ax, rc, col)
        draw(ax, lc, col, ds)
    style(ax, letter, c == 0, r == 2, r == 0)
    handles = [Line2D([], [], color=col, lw=2.0) for col in COLORS]
    ax.legend(handles, labels, loc="upper left", bbox_to_anchor=(-0.014, 0.985), frameon=False,
              fontsize=11.5, handlelength=2.2, handletextpad=0.15, labelspacing=0.2,
              borderpad=0.4, borderaxespad=0)

# panel (f)
b, h = rows[2]
ax = fig.add_axes([M, b, R - M, h])
draw(ax, f_rcp, "#000000")
draw(ax, f_lcp, "#ff0000", f_dash)
style(ax, "(f)", False, True, False)
handles = [Line2D([], [], color="#000000", lw=2.0),
           Line2D([], [], color="#ff0000", lw=2.0, ls=DASH)]
ax.legend(handles, ["RCP", "LCP"], loc="upper left", bbox_to_anchor=(0.017, 0.975), frameon=False,
          fontsize=11.5, handlelength=2.2, handletextpad=0.15, labelspacing=0.3,
          borderpad=0.4, borderaxespad=0)

fig.savefig("out.png", dpi=100)
